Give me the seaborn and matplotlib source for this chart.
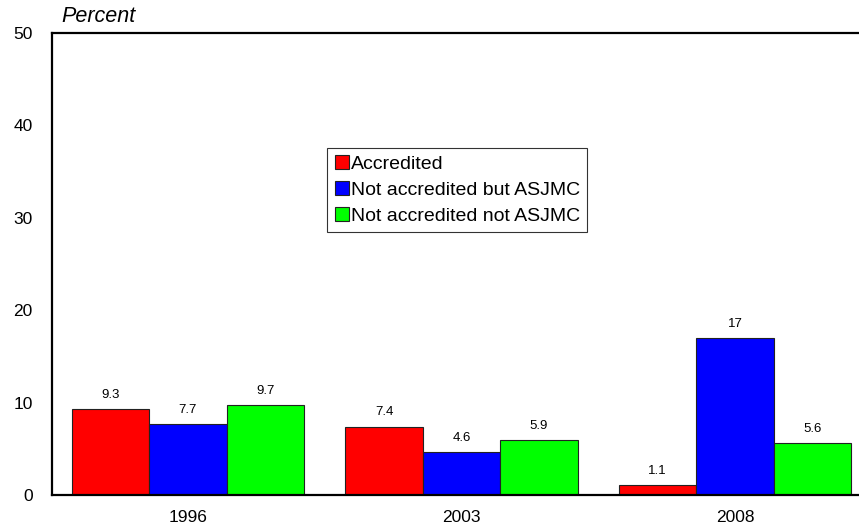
import matplotlib
matplotlib.use("Agg")
import matplotlib.pyplot as plt
import seaborn as sns
import pandas as pd

years = ["1996", "2003", "2008"]
groups = ["Accredited", "Not accredited but ASJMC", "Not accredited not ASJMC"]
accredited = [9.3, 7.4, 1.1]
asjmc_only = [7.7, 4.6, 17.0]
neither = [9.7, 5.9, 5.6]
colors = ["#ff0000", "#0000ff", "#00ff00"]
label_text = {
    groups[0]: ["9.3", "7.4", "1.1"],
    groups[1]: ["7.7", "4.6", "17"],
    groups[2]: ["9.7", "5.9", "5.6"],
}

df = pd.DataFrame({
    "year": years * 3,
    "group": [g for g in groups for _ in years],
    "value": accredited + asjmc_only + neither,
})

sns.set_theme(style="white")
plt.rcParams["font.family"] = ["Liberation Sans", "DejaVu Sans"]
plt.rcParams["text.color"] = "black"

fig = plt.figure(figsize=(8.59, 5.31), dpi=100)
ax = fig.add_axes([52 / 859, 1 - 495 / 531, 807 / 859, 462 / 531])

sns.barplot(data=df, x="year", y="value", hue="group", hue_order=groups,
            palette=colors, width=0.85, saturation=1, ax=ax,
            edgecolor="#222222", linewidth=0.8, errorbar=None)

for container, g in zip(ax.containers, groups):
    ax.bar_label(container, labels=label_text[g], padding=6, fontsize=9.5,
                 color="black")

ax.set_ylim(0, 50)
ax.set_xlim(-0.497, 2.453)
ax.set_yticks([0, 10, 20, 30, 40, 50])
ax.tick_params(axis="both", length=0, labelsize=12.5, labelcolor="black")
ax.tick_params(axis="y", pad=14)
ax.tick_params(axis="x", pad=11)
ax.set_xlabel("")
ax.set_ylabel("")

for side in ["left", "top", "bottom"]:
    ax.spines[side].set_visible(True)
    ax.spines[side].set_color("black")
    ax.spines[side].set_linewidth(1.6)
ax.spines["right"].set_visible(False)

fig.text(61 / 859, 1 - 17 / 531, "Percent", fontsize=15.5, style="italic",
         va="center", ha="left", color="black")

leg = ax.legend(loc="upper left", bbox_to_anchor=(0.341, 0.752),
                fontsize=14, frameon=True, fancybox=False,
                handlelength=0.7, handleheight=0.7, handletextpad=0.1,
                labelspacing=0.42, borderpad=0.4, borderaxespad=0)
leg.get_frame().set_edgecolor("black")
leg.get_frame().set_linewidth(0.8)
for t in leg.get_texts():
    t.set_color("black")

fig.savefig("out.png", dpi=100)
